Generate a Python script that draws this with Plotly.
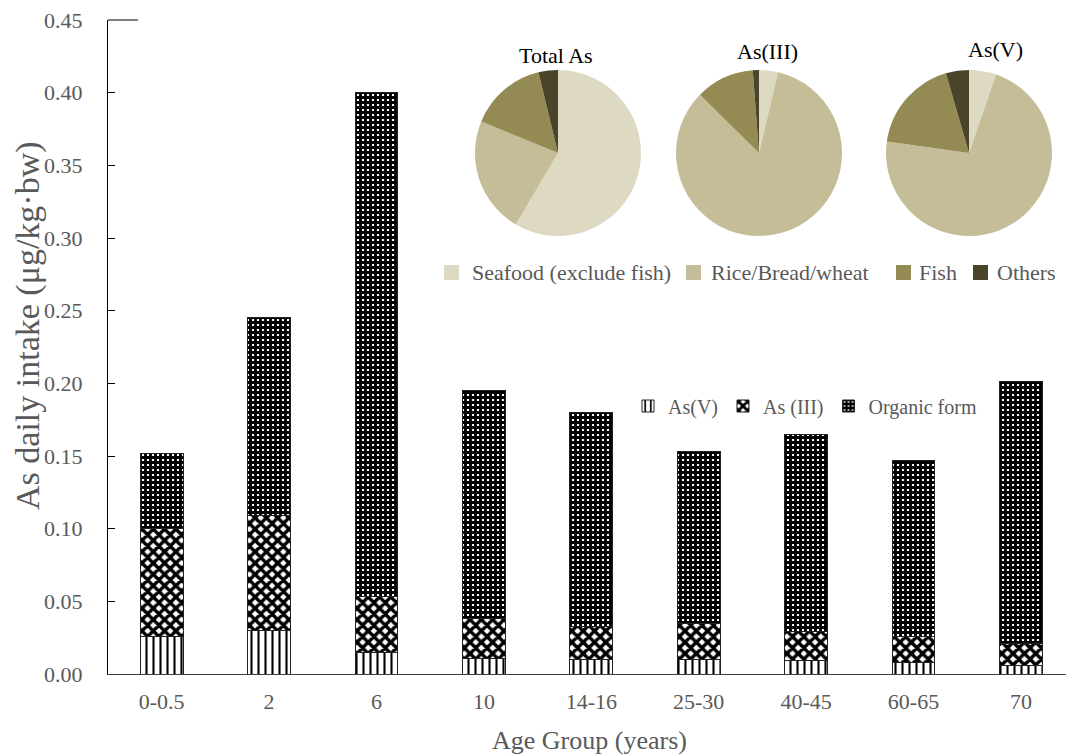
import plotly.graph_objects as go

# ---- data ----
age_groups = ["0-0.5", "2", "6", "10", "14-16", "25-30", "40-45", "60-65", "70"]
as_v = [0.026, 0.030, 0.015, 0.011, 0.010, 0.010, 0.009, 0.008, 0.006]
as_iii = [0.074, 0.079, 0.038, 0.027, 0.023, 0.025, 0.020, 0.018, 0.015]
organic = [0.052, 0.136, 0.347, 0.157, 0.147, 0.118, 0.136, 0.121, 0.180]

sources = ["Seafood (exclude fish)", "Rice/Bread/wheat", "Fish", "Others"]
source_colors = ["#DDD9C3", "#C4BD97", "#948A54", "#4A452A"]
pie_titles = ["Total As", "As(III)", "As(V)"]
pie_total = [58.5, 22.7, 15.0, 3.8]
pie_as_iii = [3.7, 83.7, 11.4, 1.2]
pie_as_v = [5.3, 71.9, 18.3, 4.5]
y_ticks = [0.00, 0.05, 0.10, 0.15, 0.20, 0.25, 0.30, 0.35, 0.40, 0.45]

# ---- geometry helpers (pixel -> paper) ----
W_FIG, H_FIG = 1066, 756
M_L, M_R, M_T, M_B = 108, 0, 20, 82
PW = W_FIG - M_L - M_R
PH = H_FIG - M_T - M_B


def px_x(x):
    return (x - M_L) / PW


def px_y(y):
    return (H_FIG - M_B - y) / PH


SERIF = "Liberation Serif, Times New Roman, serif"
GRAY = "#595959"

fig = go.Figure()

bar_styles = [
    ("As(V)", as_v, dict(shape="|", size=7, solidity=0.3)),
    ("As (III)", as_iii, dict(shape="x", size=8, solidity=0.68)),
    ("Organic form", organic, dict(shape="+", size=5, solidity=0.82)),
]
for name, vals, pat in bar_styles:
    fig.add_trace(go.Bar(
        x=age_groups, y=vals, name=name, width=0.40,
        marker=dict(
            color="white",
            line=dict(color="#222222", width=1),
            pattern=dict(fgcolor="black", bgcolor="white", fillmode="replace", **pat),
        ),
        legend="legend",
    ))

# ---- pies ----
pie_values = [pie_total, pie_as_iii, pie_as_v]
pie_boxes = [(475, 641), (676, 842), (886, 1052)]
pie_title_pos = [(556, 55), (767, 52), (995, 50)]
for title, vals, (x0, x1), (tx, ty) in zip(pie_titles, pie_values, pie_boxes, pie_title_pos):
    fig.add_trace(go.Pie(
        labels=sources, values=vals, sort=False, direction="clockwise", rotation=0,
        marker=dict(colors=source_colors, line=dict(width=0)),
        textinfo="none", hoverinfo="label+percent", showlegend=False,
        domain=dict(x=[px_x(x0), px_x(x1)], y=[px_y(236), px_y(70)]),
    ))
    fig.add_annotation(
        text=title, x=px_x(tx), y=px_y(ty), xref="paper", yref="paper",
        xanchor="center", yanchor="middle", showarrow=False,
        font=dict(family=SERIF, size=22, color="black"),
    )

# ---- legend for the pie sources ----
key_left = [444, 686, 896, 973]
text_left = [470, 709, 917, 995]
for label, col, kx, tx in zip(sources, source_colors, key_left, text_left):
    fig.add_shape(
        type="rect", xref="paper", yref="paper",
        x0=px_x(kx), x1=px_x(kx + 15), y0=px_y(280), y1=px_y(265),
        fillcolor=col, line=dict(width=0),
    )
    fig.add_annotation(
        text=label, x=px_x(tx), y=px_y(272), xref="paper", yref="paper",
        xanchor="left", yanchor="middle", showarrow=False,
        font=dict(family=SERIF, size=22, color=GRAY),
    )

# short top edge of the value axis
fig.add_shape(type="line", xref="paper", yref="paper",
              x0=0, x1=px_x(M_L + 30), y0=1, y1=1,
              line=dict(color="black", width=1))

# axis titles
fig.add_annotation(
    text="As daily intake (μg/kg·bw)", textangle=-90,
    x=px_x(28), y=px_y(326), xref="paper", yref="paper",
    xanchor="center", yanchor="middle", showarrow=False,
    font=dict(family=SERIF, size=34, color=GRAY),
)
fig.add_annotation(
    text="Age Group (years)", x=px_x(589), y=px_y(740), xref="paper", yref="paper",
    xanchor="center", yanchor="middle", showarrow=False,
    font=dict(family=SERIF, size=26, color=GRAY),
)

fig.update_layout(
    width=W_FIG, height=H_FIG,
    margin=dict(l=M_L, r=M_R, t=M_T, b=M_B),
    barmode="stack", bargap=0.6,
    plot_bgcolor="white", paper_bgcolor="white",
    font=dict(family=SERIF, color=GRAY),
    legend=dict(
        orientation="h", x=px_x(628), y=px_y(406), xanchor="left", yanchor="middle",
        font=dict(family=SERIF, size=20, color=GRAY), bgcolor="rgba(0,0,0,0)",
        itemwidth=30, tracegroupgap=0, traceorder="normal",
    ),
    xaxis=dict(
        type="category", range=[-0.5, 8.42], showline=True, linecolor="#404040",
        linewidth=1, ticks="", showgrid=False, zeroline=False,
        tickfont=dict(family=SERIF, size=22, color=GRAY), ticklabelstandoff=8,
    ),
    yaxis=dict(
        range=[0, 0.45], tickvals=y_ticks, tickformat=".2f", showline=True,
        linecolor="black", linewidth=1, ticks="inside", ticklen=7, tickcolor="black",
        showgrid=False, zeroline=False,
        tickfont=dict(family=SERIF, size=22, color=GRAY), ticklabelstandoff=20,
    ),
)

fig.write_html("out.html")
